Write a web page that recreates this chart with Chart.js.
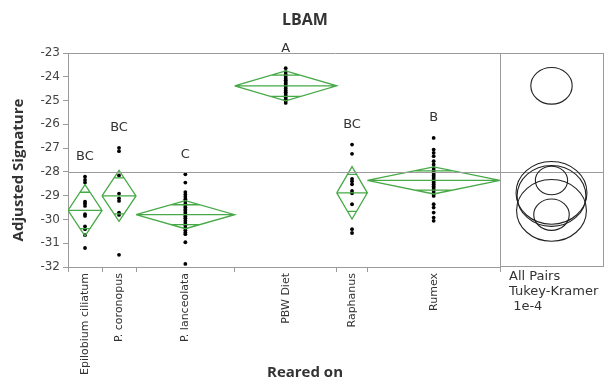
<!DOCTYPE html>
<html>
<head>
<meta charset="utf-8">
<script src="https://cdn.jsdelivr.net/npm/chart.js@4/dist/chart.umd.min.js"></script>
<style>
  body { margin: 0; background: #fff; }
  canvas { display: block; }
</style>
</head>
<body>
<canvas id="lbamChart" width="608" height="384"></canvas>
<script>
// Groups (Reared on) and sample sizes (diamond widths follow n)
const groups = ['Epilobium ciliatum', 'P. coronopus', 'P. lanceolata', 'PBW Diet', 'Raphanus', 'Rumex'];
const groupN = [10, 10, 29, 30, 9, 39];

// Observations per group
const epilobium = [-28.20, -28.34, -28.45, -29.25, -29.33, -29.43, -29.78, -29.85, -30.29, -30.41, -30.66, -31.20];
const coronopus = [-26.99, -27.13, -28.15, -28.91, -29.11, -29.22, -29.71, -29.81, -31.49];
const lanceolata = [-28.10, -28.45, -28.85, -28.95, -29.05, -29.15, -29.25, -29.35, -29.42, -29.50, -29.58, -29.65, -29.72,
                    -29.80, -29.88, -29.95, -30.05, -30.15, -30.25, -30.35, -30.45, -30.55, -30.62, -30.96, -31.87];
const pbwDiet = [-23.64, -23.80, -23.90, -24.00, -24.08, -24.15, -24.22, -24.28, -24.35, -24.42, -24.50, -24.58,
                 -24.65, -24.72, -24.80, -24.88, -24.95, -25.02, -25.10];
const raphanus = [-26.85, -27.24, -28.29, -28.39, -28.52, -28.80, -28.90, -29.36, -30.41, -30.57];
const rumex = [-26.57, -27.06, -27.20, -27.34, -27.55, -27.69, -27.83, -27.92, -28.00, -28.08, -28.15, -28.22, -28.30,
               -28.38, -28.45, -28.52, -28.60, -28.68, -28.76, -28.85, -28.93, -29.01, -29.36, -29.50, -29.71, -29.92, -30.06];

// Means diamonds, Tukey-Kramer letters and comparison circles
const means = [-29.62, -29.01, -29.80, -24.38, -28.88, -28.36];
const ciHalf = [1.08, 1.07, 0.59, 0.63, 1.10, 0.57];
const letters = ['BC', 'BC', 'C', 'A', 'BC', 'B'];
const circleRadius = [1.30, 1.28, 0.66, 0.77, 1.32, 0.60];
const grandMean = -28.0;

const yTicks = [-32, -31, -30, -29, -28, -27, -26, -25, -24, -23];

const observations = [epilobium, coronopus, lanceolata, pbwDiet, raphanus, rumex];

// Group boundaries along the x axis (cumulative n)
const bounds = [0];
groupN.forEach(function (n) { bounds.push(bounds[bounds.length - 1] + n); });
const centers = groupN.map(function (n, i) { return bounds[i] + n / 2; });

const green = '#47a947';
const axisGray = '#9b9b9b';

// Diamond outline + mean line + overlap marks, one dataset per group
const diamondSets = groups.map(function (g, i) {
    const L = bounds[i], R = bounds[i + 1], C = centers[i];
    const m = means[i], h = ciHalf[i], o = h / Math.SQRT2;
    const w = (R - L) / 2 * (1 - o / h);
    const gap = { x: null, y: null };
    return {
        label: g + ' diamond',
        data: [
            { x: L, y: m }, { x: C, y: m + h }, { x: R, y: m }, { x: C, y: m - h }, { x: L, y: m }, gap,
            { x: L, y: m }, { x: R, y: m }, gap,
            { x: C - w, y: m + o }, { x: C + w, y: m + o }, gap,
            { x: C - w, y: m - o }, { x: C + w, y: m - o }
        ],
        showLine: true,
        spanGaps: false,
        borderColor: green,
        borderWidth: 1.3,
        pointRadius: 0,
        tension: 0
    };
});

const pointSet = {
    label: 'Observations',
    data: [].concat.apply([], observations.map(function (vals, i) {
        return vals.map(function (v) { return { x: centers[i], y: v }; });
    })),
    backgroundColor: '#000',
    borderColor: '#000',
    pointRadius: 1.9,
    borderWidth: 0
};

// Frame, reference line, letters, comparison circles and titles
const extrasPlugin = {
    id: 'extras',
    afterDatasetsDraw: function (chart) {
        const ctx = chart.ctx;
        const area = chart.chartArea;
        const x = chart.scales.x, y = chart.scales.y;
        const panelLeft = area.right, panelRight = 603;

        ctx.save();
        ctx.strokeStyle = axisGray;
        ctx.lineWidth = 1;
        ctx.beginPath();
        ctx.moveTo(area.left, area.top + 0.5);
        ctx.lineTo(panelRight, area.top + 0.5);
        ctx.moveTo(panelLeft + 0.5, area.top);
        ctx.lineTo(panelLeft + 0.5, area.bottom);
        ctx.moveTo(panelRight + 0.5, area.top);
        ctx.lineTo(panelRight + 0.5, area.bottom);
        ctx.moveTo(panelLeft, area.bottom - 0.5);
        ctx.lineTo(panelRight, area.bottom - 0.5);
        const gy = Math.round(y.getPixelForValue(grandMean)) + 0.5;
        ctx.moveTo(area.left, gy);
        ctx.lineTo(panelRight, gy);
        ctx.stroke();

        // connecting letters above each group
        ctx.fillStyle = '#333';
        ctx.font = '13px "DejaVu Sans"';
        ctx.textAlign = 'center';
        ctx.textBaseline = 'middle';
        letters.forEach(function (t, i) {
            const top = Math.max.apply(null, observations[i]);
            ctx.fillText(t, x.getPixelForValue(centers[i]), y.getPixelForValue(top) - 20);
        });

        // comparison circles
        const cx = (panelLeft + panelRight) / 2;
        const pxPerUnit = y.getPixelForValue(-28) - y.getPixelForValue(-27);
        ctx.strokeStyle = '#222';
        ctx.lineWidth = 1.1;
        means.forEach(function (m, i) {
            const ry = circleRadius[i] * pxPerUnit;
            ctx.beginPath();
            ctx.ellipse(cx, y.getPixelForValue(m), ry * 1.13, ry, 0, 0, Math.PI * 2);
            ctx.stroke();
        });

        ctx.fillStyle = '#333';
        ctx.font = '13px "DejaVu Sans"';
        ctx.textAlign = 'left';
        ctx.fillText('All Pairs', 509, 277);
        ctx.fillText('Tukey-Kramer', 509, 292);
        ctx.fillText(' 1e-4', 509, 307);

        // titles
        ctx.fillStyle = '#333';
        ctx.textAlign = 'center';
        ctx.font = 'bold 16px "Open Sans"';
        ctx.fillText('LBAM', 305, 20);
        ctx.font = 'bold 15px "Open Sans"';
        ctx.fillText('Reared on', 305, 373);
        ctx.translate(19, 170);
        ctx.rotate(-Math.PI / 2);
        ctx.fillText('Adjusted Signature', 0, 0);
        ctx.restore();
    }
};

Chart.defaults.font.family = '"DejaVu Sans"';

new Chart(document.getElementById('lbamChart'), {
    type: 'scatter',
    data: { datasets: diamondSets.concat([pointSet]) },
    options: {
        responsive: false,
        animation: false,
        layout: { padding: { top: 53, right: 108, left: 0, bottom: 0 } },
        plugins: {
            legend: { display: false },
            tooltip: { enabled: false }
        },
        scales: {
            x: {
                type: 'linear',
                min: bounds[0],
                max: bounds[bounds.length - 1],
                afterBuildTicks: function (scale) {
                    scale.ticks = bounds.concat(centers).sort(function (a, b) { return a - b; })
                        .map(function (v) { return { value: v }; });
                },
                afterFit: function (scale) { scale.height = 117; },
                grid: {
                    drawOnChartArea: false,
                    tickLength: 5,
                    tickColor: function (c) {
                        return bounds.indexOf(c.tick && c.tick.value) >= 0 ? axisGray : 'rgba(0,0,0,0)';
                    }
                },
                border: { color: axisGray },
                ticks: {
                    autoSkip: false,
                    minRotation: 90,
                    maxRotation: 90,
                    padding: 1,
                    color: '#333',
                    font: { size: 11 },
                    callback: function (v) {
                        const i = centers.indexOf(v);
                        return i >= 0 ? groups[i] : '';
                    }
                }
            },
            y: {
                min: yTicks[0],
                max: yTicks[yTicks.length - 1],
                afterBuildTicks: function (scale) {
                    scale.ticks = yTicks.map(function (v) { return { value: v }; });
                },
                afterFit: function (scale) { scale.width = 68; },
                grid: { drawOnChartArea: false, tickLength: 5, tickColor: axisGray },
                border: { color: axisGray },
                ticks: {
                    padding: 3,
                    color: '#444',
                    font: { size: 12 },
                    callback: function (v) { return String(v); }
                }
            }
        }
    },
    plugins: [extrasPlugin]
});
</script>
</body>
</html>
